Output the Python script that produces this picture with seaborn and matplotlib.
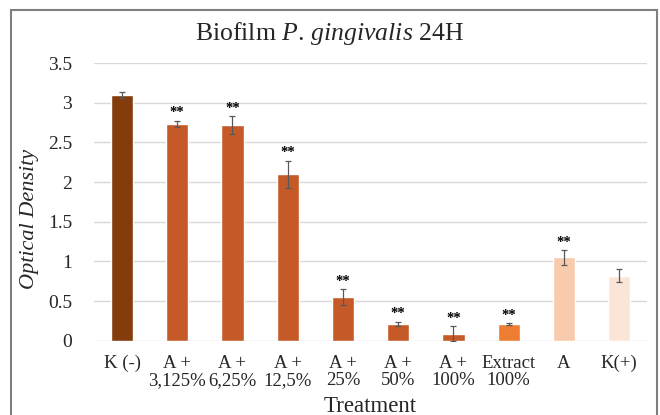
import numpy as np
import pandas as pd
import matplotlib
matplotlib.use('Agg')
import matplotlib.pyplot as plt
import seaborn as sns
from matplotlib.patches import Rectangle

# ===== DONNÉES =====
categories = ['K (-)', 'A +\n3,125%', 'A +\n6,25%', 'A +\n12,5%', 'A +\n25%',
              'A +\n50%', 'A +\n100%', 'Extract\n100%', 'A', 'K(+)']
values = [3.10, 2.73, 2.72, 2.10, 0.55, 0.21, 0.09, 0.21, 1.05, 0.82]
errors = [0.04, 0.04, 0.11, 0.17, 0.10, 0.03, 0.09, 0.01, 0.09, 0.08]
signif = ['', '**', '**', '**', '**', '**', '**', '**', '**', '']
colors = ['#843C0C', '#C55A28', '#C55A28', '#C55A28', '#C55A28',
          '#C55A28', '#C55A28', '#ED7D31', '#F8CBAD', '#FBE5D6']
yticks = [0, 0.5, 1, 1.5, 2, 2.5, 3, 3.5]
ytick_labels = ['0', '0.5', '1', '1.5', '2', '2.5', '3', '3.5']

df = pd.DataFrame({'cat': categories, 'val': values})

# ===== STYLE =====
sns.set_style('white')
plt.rcParams['font.family'] = ['Liberation Serif', 'DejaVu Serif']
plt.rcParams['mathtext.fontset'] = 'custom'
plt.rcParams['mathtext.rm'] = 'Liberation Serif'
plt.rcParams['mathtext.it'] = 'Liberation Serif:italic'

fig = plt.figure(figsize=(6.6, 4.15), dpi=100)
ax = fig.add_axes([0.143, 0.179, 0.837, 0.669])

sns.barplot(data=df, x='cat', y='val', hue='cat', palette=colors, legend=False,
            width=0.4, ax=ax, saturation=1)

xpos = np.arange(len(categories))
ax.errorbar(xpos, values, yerr=errors, fmt='none', ecolor='#595959',
            elinewidth=0.9, capsize=2.5, capthick=0.9, zorder=5)

for x, v, e, s in zip(xpos, values, errors, signif):
    if s:
        ax.text(x, v + e + 0.02, s, ha='center', va='bottom', fontsize=10.5,
                fontweight='bold', color='black')

ax.set_ylim(0, 3.5)
ax.set_xlim(-0.5, len(categories) - 0.5)
ax.set_yticks(yticks)
ax.set_yticklabels(ytick_labels, fontsize=14)
ax.tick_params(axis='y', length=0, pad=16)
ax.tick_params(axis='x', length=0, pad=10, labelsize=13.5)
for lab in ax.get_xticklabels():
    lab.set_linespacing(1.0)
ax.yaxis.grid(True, color='#D9D9D9', linewidth=1)
ax.set_axisbelow(True)
for sp in ax.spines.values():
    sp.set_visible(False)

ax.set_ylabel('Optical Density', fontsize=16, style='italic')
ax.yaxis.set_label_coords(-0.1, 0.44)
ax.set_xlabel('Treatment', fontsize=16.5, labelpad=5)
fig.text(0.5, 0.92, r'Biofilm $\mathit{P.\,gingivalis}$ 24H', ha='center',
         va='center', fontsize=18.5)

# cadre gris autour du graphique
fig.patches.append(Rectangle((11 / 660, -0.05), 657 / 660 - 11 / 660, 1.05 - 10 / 415,
                             transform=fig.transFigure, fill=False,
                             edgecolor='#7F7F7F', linewidth=1.5))

fig.savefig('out.png', dpi=100)
